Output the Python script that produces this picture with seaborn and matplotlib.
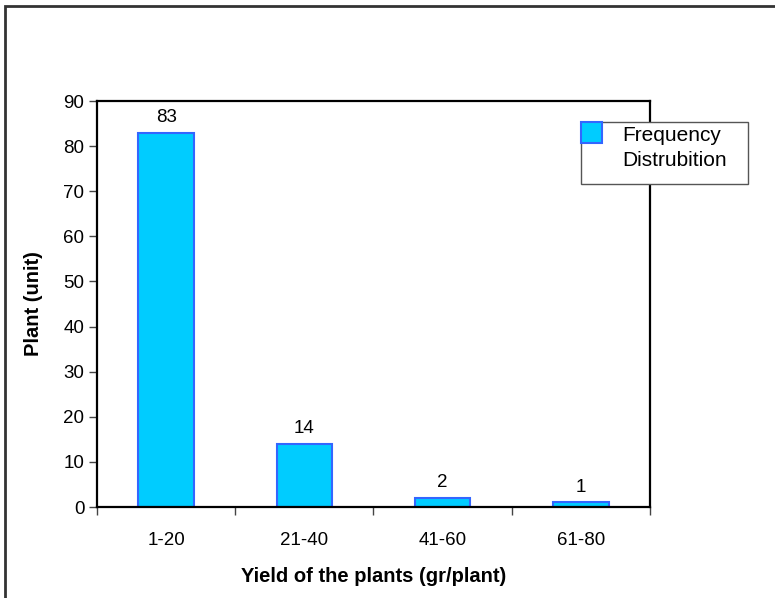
import matplotlib
matplotlib.use("Agg")
import matplotlib.pyplot as plt
import matplotlib.patches as mpatches
import seaborn as sns
import pandas as pd

# Yield classes and number of plants in each class
yield_classes = ["1-20", "21-40", "41-60", "61-80"]
plant_counts = [83, 14, 2, 1]
series_name = "Frequency\nDistrubition"
y_ticks = [0, 10, 20, 30, 40, 50, 60, 70, 80, 90]

sns.set_theme(style="white")
plt.rcParams["font.family"] = ["Liberation Sans", "DejaVu Sans"]
plt.rcParams.update({"text.color": "black", "axes.labelcolor": "black",
                     "xtick.color": "black", "ytick.color": "black"})

df = pd.DataFrame({"Yield": yield_classes, "Plants": plant_counts})

W, H = 775, 598
fig = plt.figure(figsize=(W / 100, H / 100), dpi=100)
ax = fig.add_axes([97 / W, 1 - 507 / H, (650 - 97) / W, (507 - 101) / H])

bar_fill = "#00CCFF"
bar_edge = "#3366FF"
sns.barplot(data=df, x="Yield", y="Plants", ax=ax, color=bar_fill,
            width=0.4, edgecolor=bar_edge, linewidth=1.5, saturation=1)

for container in ax.containers:
    ax.bar_label(container, labels=[str(v) for v in plant_counts],
                 padding=5, fontsize=13.5, color="black")

ax.set_xlim(-0.5, len(yield_classes) - 0.5)
ax.set_ylim(0, 90)
ax.set_yticks(y_ticks)
ax.set_yticklabels([str(t) for t in y_ticks], fontsize=13.5)

# Category labels centred, tick marks on the class boundaries
ax.set_xticks(range(len(yield_classes)))
ax.set_xticklabels(yield_classes, fontsize=13.5)
ax.tick_params(axis="x", which="major", length=0, pad=18)
ax.set_xticks([i - 0.5 for i in range(len(yield_classes) + 1)], minor=True)
ax.tick_params(axis="x", which="minor", direction="out", length=6,
               width=1, color="#444444", bottom=True)
ax.tick_params(axis="y", which="major", direction="out", length=6,
               width=1, color="#444444", left=True, pad=3)

for side in ["left", "right", "top", "bottom"]:
    ax.spines[side].set_visible(True)
    ax.spines[side].set_color("black")
    ax.spines[side].set_linewidth(1.6)

ax.set_xlabel("Yield of the plants (gr/plant)", fontsize=14.5,
              fontweight="bold", labelpad=13)
ax.set_ylabel("Plant (unit)", fontsize=14.5, fontweight="bold", labelpad=15)

# Legend box: swatch in the top-left corner, series name beside it
lx0, ly0, lx1, ly1 = 581, 122, 748, 184
fig.add_artist(mpatches.Rectangle((lx0 / W, 1 - ly1 / H), (lx1 - lx0) / W,
                                  (ly1 - ly0) / H, transform=fig.transFigure,
                                  facecolor="white", edgecolor="#555555",
                                  linewidth=1.0, zorder=5))
fig.add_artist(mpatches.Rectangle((lx0 / W, 1 - 143 / H), 21 / W, 21 / H,
                                  transform=fig.transFigure,
                                  facecolor=bar_fill, edgecolor=bar_edge,
                                  linewidth=1.5, zorder=6))
fig.text(622 / W, 1 - 126 / H, series_name, fontsize=15, ha="left",
         va="top", linespacing=1.42, zorder=6)

# Chart frame along the top and left edges
fig.add_artist(mpatches.Rectangle((5 / W, -0.1), 2.0, 1 - 5.5 / H + 0.1,
                                  transform=fig.transFigure, fill=False,
                                  edgecolor="#333333", linewidth=2))

fig.savefig("out.png", dpi=100)
